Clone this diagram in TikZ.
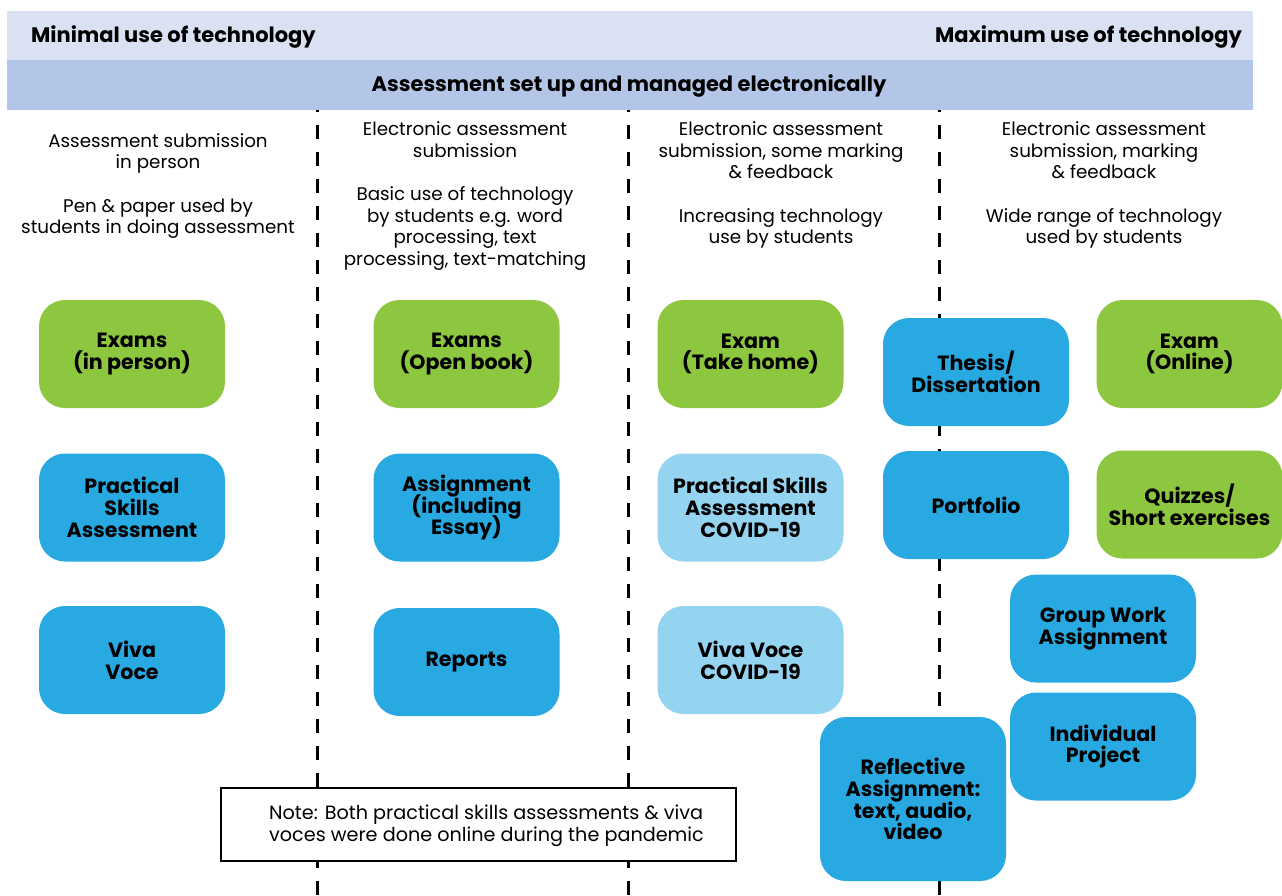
\documentclass[tikz,border=0pt]{standalone}
\usepackage{fontspec}
\setmainfont{Poppins}
\definecolor{hdrA}{HTML}{D9E1F2}
\definecolor{hdrB}{HTML}{B4C6E7}
\definecolor{grn}{HTML}{8DC63F}
\definecolor{blu}{HTML}{29A9E1}
\definecolor{lblu}{HTML}{95D4F1}
\newcommand{\noskip}{\lineskiplimit -30pt\relax}
\begin{document}
\begin{tikzpicture}[x=1pt,y=-1pt,
  abox/.style={rounded corners=26pt, minimum width=186pt, minimum height=108pt, inner sep=0pt, align=center,
    font={\fontsize{20.6}{21.8}\selectfont\bfseries\noskip}},
  gbox/.style={abox, fill=grn},
  bbox/.style={abox, fill=blu},
  lbox/.style={abox, fill=lblu},
  desc/.style={align=center, inner sep=0pt, font={\fontsize{18.3}{21.7}\selectfont\noskip}},
  sep/.style={line width=3pt, dash pattern=on 14pt off 13pt, black},
  hdr/.style={inner sep=0pt, font=\fontsize{21}{24}\selectfont\bfseries}
]
\useasboundingbox (0,0) rectangle (1282,895);
% separators
\foreach \n/\x in {a/317,b/628,c/939}{
  \coordinate (\n top) at (\x,98);
  \coordinate (\n bot) at (\x,895);
  \draw[sep] (\n top) -- (\n bot);
}
% header bands
\fill[hdrA] (7,11) rectangle (1253,60);
\fill[hdrB] (7,60) rectangle (1253,110);
\node[hdr, anchor=west] (minT) at (31,37) {Minimal use of technology};
\node[hdr, anchor=east] (maxT) at (1242,37) {Maximum use of technology};
\node[hdr] (setT) at (629,86) {Assessment set up and managed electronically};
% descriptions
\node[desc] (d1) at (158,186) {Assessment submission\\in person\\[21.7pt]Pen \& paper used by\\students in doing assessment};
\node[desc] (d2) at (465,196) {Electronic assessment\\submission\\[21.7pt]Basic use of technology\\by students e.g. word\\processing, text\\processing, text-matching};
\node[desc] (d3) at (781,185) {Electronic assessment\\submission, some marking\\\& feedback\\[21.7pt]Increasing technology\\use by students};
\node[desc] (d4) at (1104,185) {Electronic assessment\\submission, marking\\\& feedback\\[21.7pt]Wide range of technology\\used by students};
% column 1
\node[gbox] (e1) at (132,354) {Exams\\(in person)};
\node[bbox] (p1) at (132,507.5) {Practical\\Skills\\Assessment};
\node[bbox] (v1) at (132,660) {Viva\\Voce};
% column 2
\node[gbox] (e2) at (466.5,354) {Exams\\(Open book)};
\node[bbox] (a2) at (466.5,507.5) {Assignment\\(including\\Essay)};
\node[bbox] (r2) at (466.5,662) {Reports};
% column 3
\node[gbox] (e3) at (750.5,354) {Exam\\(Take home)};
\node[lbox] (p3) at (750.5,507.5) {Practical Skills\\Assessment\\COVID-19};
\node[lbox] (v3) at (750.5,660) {Viva Voce\\COVID-19};
% column 4
\node[bbox] (th) at (976,372) {Thesis/\\Dissertation};
\node[gbox] (eo) at (1189.5,354) {Exam\\(Online)};
\node[bbox] (pf) at (976,505) {Portfolio};
\node[gbox] (qz) at (1189.5,504.5) {Quizzes/\\Short exercises};
\node[bbox] (gw) at (1103,628.5) {Group Work\\Assignment};
\node[bbox] (ip) at (1103,746.5) {Individual\\Project};
\node[bbox, minimum height=164pt] (rf) at (913,799) {Reflective\\Assignment:\\text, audio,\\video};
% note
\node[draw=black, line width=2.5pt, fill=white, minimum width=515pt, minimum height=73pt, inner sep=0pt] (noteframe) at (478.5,824.5) {};
\node[align=left, inner sep=0pt, font={\fontsize{19.2}{21.5}\selectfont\noskip}] (note) at (486.5,826) {Note: Both practical skills assessments \& viva\\voces were done online during the pandemic};
\end{tikzpicture}
\end{document}
